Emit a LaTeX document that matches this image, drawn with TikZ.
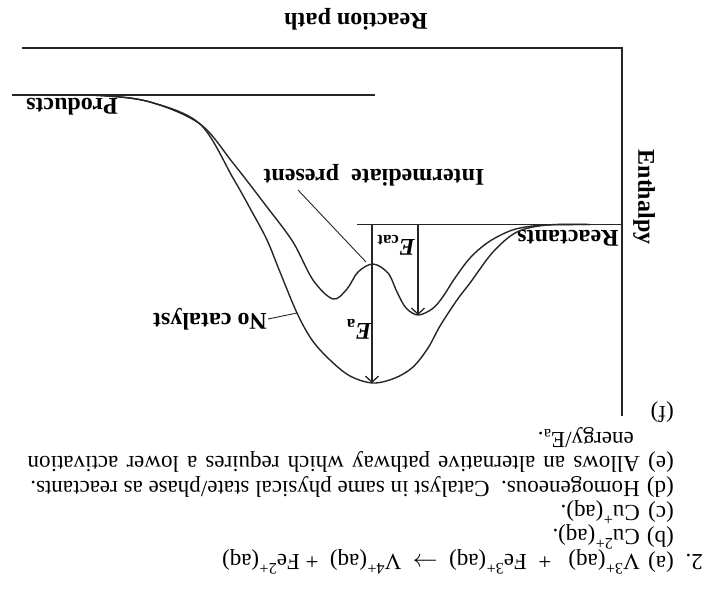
\documentclass[tikz,border=0pt]{standalone}
\usepackage{fontspec}
\setmainfont{Liberation Serif}
\usetikzlibrary{arrows.meta}
\begin{document}
\begin{tikzpicture}[x=1pt,y=-1pt,
  txt/.style={rotate=180, inner sep=0pt, anchor=west, font=\fontsize{23}{26}\selectfont},
  lbl/.style={rotate=180, inner sep=0pt, font=\fontsize{24}{26}\selectfont\bfseries},
  vlbl/.style={rotate=-90, inner sep=0pt, font=\fontsize{24}{26}\selectfont\bfseries},
  axisline/.style={line width=1.6pt, draw=black!85},
  curveline/.style={line width=1.4pt, draw=black!85},
  leader/.style={line width=0.9pt, draw=black!85},
  earrow/.style={line width=1.3pt, draw=black!85, -{Straight Barb[length=6pt,width=13pt]}},
]
\useasboundingbox (0,0) rectangle (712,598);

% axes
\coordinate (axTL) at (22,48);
\coordinate (axTR) at (622,48);
\coordinate (axB) at (622,416);
\draw[axisline] (axTL) -- (axTR) -- (axB);
\node[lbl] (rp) at (356,19) {Reaction path};
\node[vlbl] (enth) at (644,197) {Enthalpy};

% levels
\coordinate (prodL) at (12,95);
\coordinate (prodR) at (375,95);
\coordinate (reacL) at (357,224.5);
\coordinate (reacR) at (622,224.5);
\draw[curveline] (prodL) -- (prodR);
\draw[curveline] (reacL) -- (reacR);
\node[lbl] (prod) at (72,107) {Products};
\node[lbl] (reac) at (568,238) {Reactants};

% uncatalysed curve
\draw[curveline] plot[smooth, tension=0.55] coordinates {
 (40,95) (100,95.5) (150,102) (200,124) (233,178) (251,210) (267,240)
 (280,272) (297,313) (312,340) (330,360) (350,376) (373,383) (395,378)
 (413,367) (428,348) (440,326) (457,300) (470,283) (493,252) (517,232)
 (547,225) (590,224.5)};

% catalysed curve
\draw[curveline] plot[smooth, tension=0.55] coordinates {
 (40,95) (100,95.5) (150,102) (200,124) (233,163) (267,207) (293,242)
 (313,280) (333,299) (347,289) (358,272) (373,264) (388,273) (397,292)
 (406,308) (418,315) (432,309) (442,298) (455,278) (470,258) (487,243)
 (505,233) (520,228) (545,225) (590,224.5)};

% activation energy arrows
\coordinate (eaTop) at (372,224.5);
\coordinate (eaBot) at (372,383);
\coordinate (ecTop) at (418,224.5);
\coordinate (ecBot) at (418,315);
\draw[earrow] (eaTop) -- (eaBot);
\draw[earrow] (ecTop) -- (ecBot);
\node[lbl] (ea) at (359,329) {\textit{E}\textsubscript{a}};
\node[lbl] (ecat) at (396,245) {\textit{E}\textsubscript{cat}};

% labels with leaders
\node[lbl] (inter) at (374,175) {Intermediate\ \ present};
\coordinate (interA) at (298,190);
\coordinate (interB) at (366,262);
\draw[leader] (interA) -- (interB);
\node[lbl] (nocat) at (210,319) {No catalyst};
\coordinate (nocA) at (268,319);
\coordinate (nocB) at (297,313);
\draw[leader] (nocA) -- (nocB);

% answer text
\node[txt] (two) at (703,562) {2.};
\node[txt] (la) at (674,562) {(a)};
\node[txt] (ta) at (640,562) {V\textsuperscript{3+}(aq)\ \ \ +\ \ Fe\textsuperscript{3+}(aq)\ \ $\rightarrow$\ \ V\textsuperscript{4+}(aq)\ \ +\ Fe\textsuperscript{2+}(aq)};
\node[txt] (lb) at (674,537) {(b)};
\node[txt] (tb) at (640,537) {Cu\textsuperscript{2+}(aq).};
\node[txt] (lc) at (674,512) {(c)};
\node[txt] (tc) at (640,512) {Cu\textsuperscript{+}(aq).};
\node[txt] (ld) at (674,487) {(d)};
\node[txt] (td) at (640,487) {Homogeneous.\ \ Catalyst in same physical state/phase as reactants.};
\node[txt] (le) at (674,462) {(e)};
\node[txt] (te) at (640,462) {\makebox[612pt][s]{Allows an alternative pathway which requires a lower activation}};
\node[txt] (te2) at (634,438) {energy/E\textsubscript{a}.};
\node[txt] (lf) at (674,412) {(f)};
\end{tikzpicture}
\end{document}
